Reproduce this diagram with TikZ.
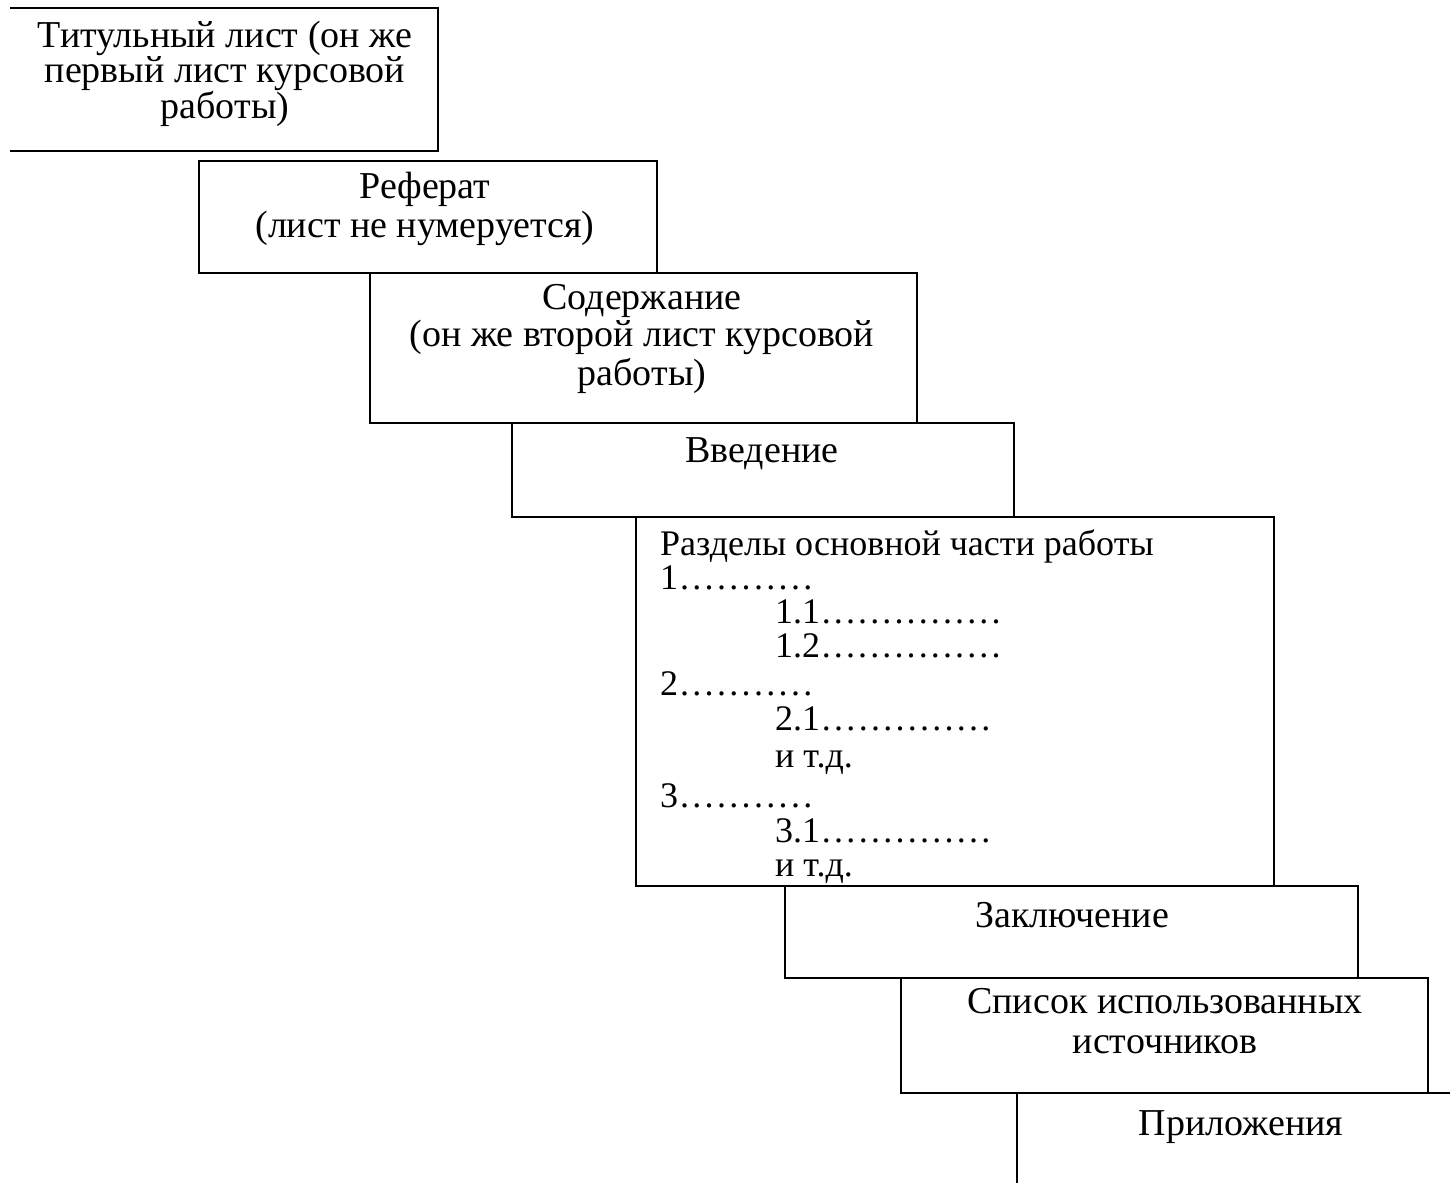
\documentclass[tikz,border=0pt]{standalone}
\usepackage{fontspec}
\setmainfont{Liberation Serif}
\newfontfamily\refserif{Liberation Serif}
\newcommand\fstrut{\rule{0pt}{30pt}}
\newcommand\leaderdots[1]{\hbox to #1{\xleaders\hbox to 12pt{\hss.\hss}\hfill}}
\begin{document}
\begin{tikzpicture}[x=1pt,y=-1pt,
  box/.style={line width=2pt, line join=miter},
  lbl/.style={anchor=north, inner sep=0pt, align=center, font=\refserif\fontsize{38}{34}\selectfont, text=black},
  lst/.style={lbl, anchor=north west, align=left, font=\refserif\fontsize{36}{34}\selectfont}]
\useasboundingbox (0,0) rectangle (1450,1183);
\fill[white] (0,0) rectangle (1450,1183);
% boxes (staircase)
\draw[box] (10,8) -- (438,8) -- (438,151) -- (10,151);
\draw[box] (199,161) rectangle (657,273);
\draw[box] (370,273) rectangle (917,423);
\draw[box] (512,423) rectangle (1014,517);
\draw[box] (636,517) rectangle (1274,886);
\draw[box] (785,886) rectangle (1358,978);
\draw[box] (901,978) rectangle (1428,1093);
\draw[box] (1017,1183) -- (1017,1093) -- (1450,1093);
% texts
\node[lbl] (t1) at (225,17) {\fstrut Титульный лист (он же\\первый лист курсовой\\работы)};
\node[lbl] (t2) at (425,168) {\fstrut Реферат\\[4pt](лист не нумеруется)};
\node[lbl] (t3) at (642,279) {\fstrut Содержание\\[2pt](он же второй лист курсовой\\[2pt]работы)};
\node[lbl] (t4) at (762,432) {\fstrut Введение};
\node[lst] (t5) at (660,525) {\fstrut Разделы основной части работы\\
1\leaderdots{136pt}\\
\hspace*{115pt}1.1\leaderdots{182pt}\\
\hspace*{115pt}1.2\leaderdots{182pt}\\[4pt]
2\leaderdots{136pt}\\[1pt]
\hspace*{115pt}2.1\leaderdots{172pt}\\[3pt]
\hspace*{115pt}и т.д.\\[6pt]
3\leaderdots{136pt}\\[1pt]
\hspace*{115pt}3.1\leaderdots{172pt}\\[0pt]
\hspace*{115pt}и т.д.};
\node[lbl] (t6) at (1072,897) {\fstrut Заключение};
\node[lbl] (t7) at (1165,983) {\fstrut Список использованных\\[6pt]источников};
\node[lbl] (t8) at (1241,1105) {\fstrut Приложения};
\end{tikzpicture}
\end{document}
